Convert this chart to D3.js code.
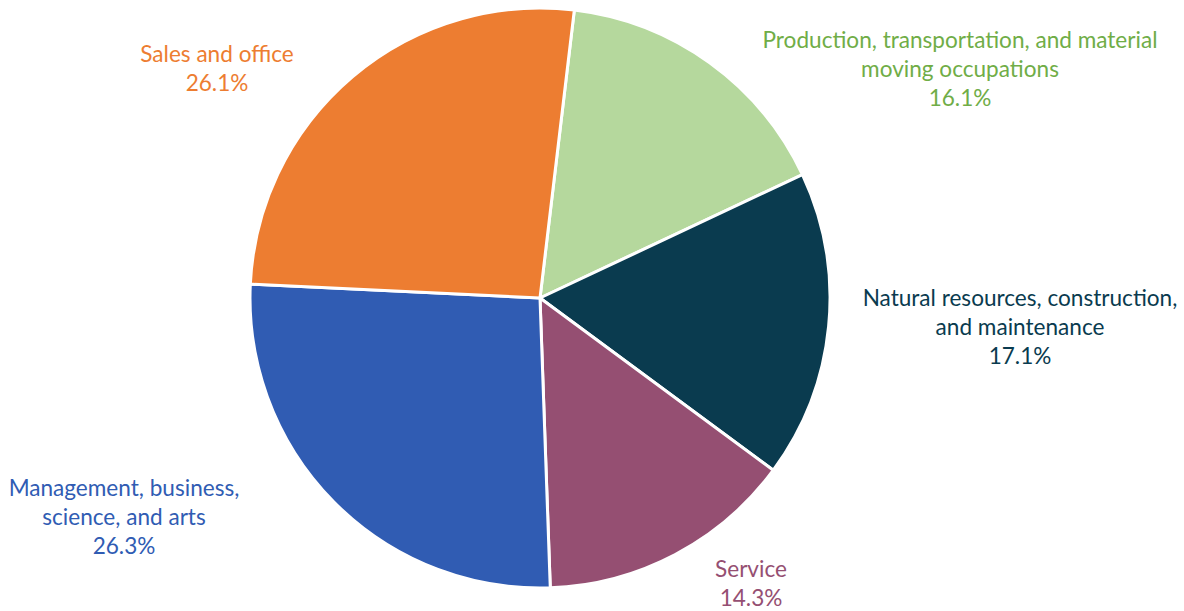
<!DOCTYPE html>
<html><head><meta charset="utf-8">
<script src="https://cdn.jsdelivr.net/npm/d3@7"></script>
<style>body{margin:0;background:#fff}svg{display:block}</style>
</head><body>
<script>
const categories = ["Production, transportation, and material moving occupations","Natural resources, construction, and maintenance","Service","Management, business, science, and arts","Sales and office"];
const values = [16.1, 17.1, 14.3, 26.3, 26.1];
const labelLines = [["Production, transportation, and material","moving occupations"],["Natural resources, construction,","and maintenance"],["Service"],["Management, business,","science, and arts"],["Sales and office"]];
const sliceColors = ["#B5D89D","#0A3B4F","#954F72","#305CB3","#ED7D31"];
const labelColors = ["#70AD47","#0A3B4F","#954F72","#305CB3","#ED7D31"];
const labelPos = [[960,48],[1020,306],[751,577],[124,496],[217,62]];

const W=1184,H=611, cx=540, cy=298, R=290;
const svg=d3.select("body").append("svg").attr("width",W).attr("height",H);
const pie=d3.pie().sort(null).value(d=>d).startAngle(6.8*Math.PI/180).endAngle(6.8*Math.PI/180+2*Math.PI);
const arcs=pie(values);
const arc=d3.arc().innerRadius(0).outerRadius(R);
const g=svg.append("g").attr("transform",`translate(${cx},${cy})`);
g.selectAll("path").data(arcs).join("path").attr("d",arc)
 .attr("fill",(d,i)=>sliceColors[i]).attr("stroke","#fff").attr("stroke-width",3).attr("stroke-linejoin","round");

const font="Lato";
// fit font size to the reference width of the widest line
const probe=svg.append("text").attr("font-family",font).attr("font-size",20).text(labelLines[0][0]);
const w20=probe.node().getComputedTextLength(); probe.remove();
const fs=20*395/w20;
const lh=29;
labelLines.forEach((lines,i)=>{
  const t=svg.append("text").attr("font-family",font).attr("font-size",fs)
   .attr("fill",labelColors[i]).attr("text-anchor","middle");
  const all=lines.concat([values[i].toFixed(1)+"%"]);
  all.forEach((s,j)=>t.append("tspan").attr("x",labelPos[i][0]).attr("y",labelPos[i][1]+j*lh).text(s));
});
</script>
</body></html>
